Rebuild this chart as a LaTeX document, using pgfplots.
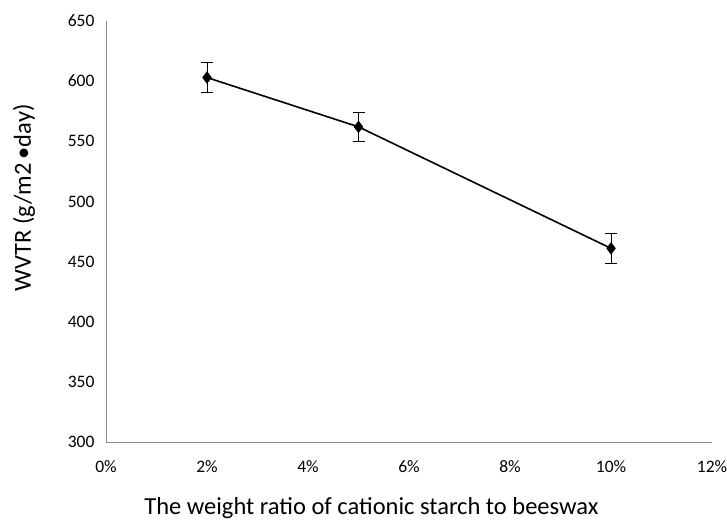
\documentclass[border=0pt]{standalone}
\usepackage{pgfplots}
\pgfplotsset{compat=1.18}
\usepackage{fontspec}
\setmainfont{Carlito}
\begin{document}
\begin{tikzpicture}
\path[use as bounding box] (0pt,0pt) rectangle (727pt,531pt);
\begin{axis}[
  at={(106pt,89pt)}, anchor=south west,
  scale only axis, width=606pt, height=421pt,
  xmin=0, xmax=12, ymin=300, ymax=650,
  axis lines*=left,
  axis line style={draw=black!45, line width=0.8pt, -},
  xtick={0,2,4,6,8,10,12},
  xticklabels={0\%,2\%,4\%,6\%,8\%,10\%,12\%},
  ytick={300,350,...,650},
  major tick length=0pt,
  tick style={draw=none},
  tick label style={font=\fontsize{17.5}{19}\selectfont},
  /pgf/number format/assume math mode=true,
  xticklabel style={anchor=center, yshift=-25pt},
  yticklabel style={anchor=east, xshift=-8pt},
  xlabel={The weight ratio of cationic starch to beeswax},
  ylabel={WVTR (g/m2\,•day)},
  xlabel style={font=\fontsize{24.5}{27}\selectfont, at={(axis description cs:0.438,0)}, anchor=center, yshift=-66pt},
  ylabel style={font=\fontsize{24.5}{27}\selectfont, at={(axis description cs:0,0.58)}, anchor=center, yshift=82pt},
  clip=false,
]
\addplot[black, line width=1.6pt, mark=diamond*, mark size=5pt,
  error bars/.cd, y dir=both, y explicit,
  error bar style={line width=0.9pt, black},
  error mark options={rotate=90, mark size=6pt, line width=0.9pt}]
  coordinates {
  (2,603) +- (0,12.5)
  (5,562) +- (0,12)
  (10,461) +- (0,12.5)
};
\end{axis}
\end{tikzpicture}
\end{document}
